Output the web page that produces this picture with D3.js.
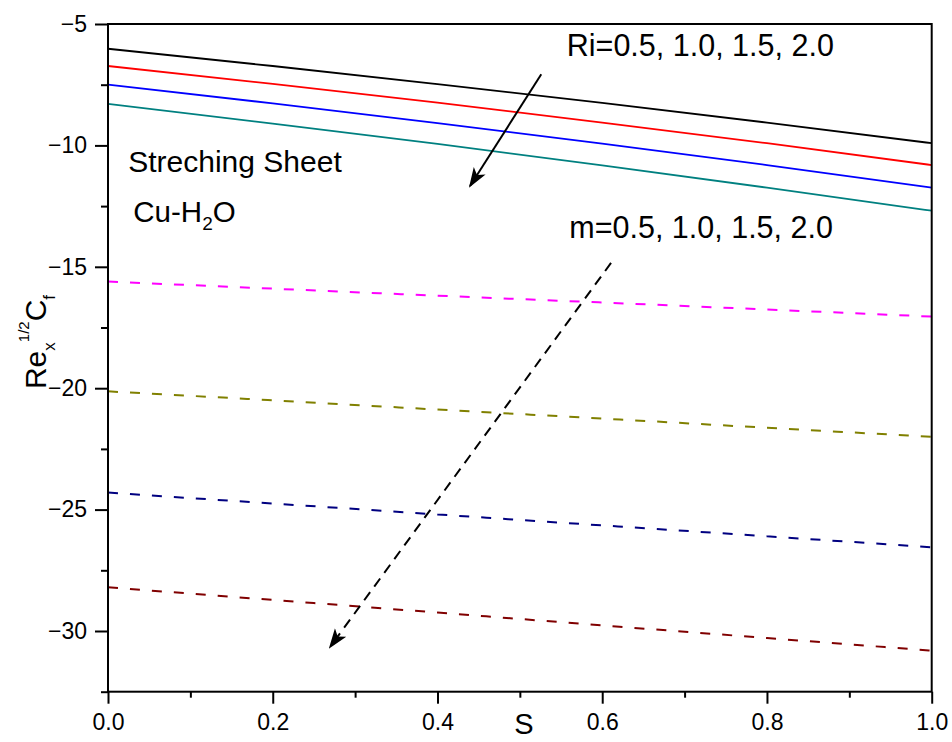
<!DOCTYPE html>
<html><head><meta charset="utf-8">
<script src="https://cdn.jsdelivr.net/npm/d3@7"></script>
<style>body{margin:0;background:#fff}svg{display:block}text{font-family:"Liberation Sans",Arial,sans-serif;fill:#000}</style>
</head><body><svg id="c" width="952" height="742"></svg>
<script>
const S = [0, 0.2, 0.4, 0.6, 0.8, 1.0];
const riBlack = [-6.02, -6.73, -7.48, -8.25, -9.06, -9.91];
const riRed   = [-6.73, -7.47, -8.24, -9.06, -9.91, -10.81];
const riBlue  = [-7.50, -8.27, -9.08, -9.93, -10.81, -11.74];
const riTeal  = [-8.29, -9.10, -9.94, -10.82, -11.74, -12.69];
const mMagenta = [-15.61, -15.90, -16.19, -16.47, -16.76, -17.05];
const mOlive   = [-20.13, -20.50, -20.88, -21.25, -21.63, -22.00];
const mNavy    = [-24.30, -24.75, -25.20, -25.65, -26.10, -26.55];
const mDarkRed = [-28.20, -28.72, -29.24, -29.77, -30.29, -30.81];
const xTicks = [0.0, 0.2, 0.4, 0.6, 0.8, 1.0];
const yTicks = [-5, -10, -15, -20, -25, -30];
const riArrow = [[0.526, -7.07], [0.4395, -11.67]];
const mArrow = [[0.6107, -14.84], [0.2695, -30.66]];

const W = 952, H = 742;
const m = {l: 108, t: 24, r: 20.3, b: 50.3};
const svg = d3.select("#c");
const x = d3.scaleLinear().domain([0, 1]).range([m.l, W - m.r]);
const y = d3.scaleLinear().domain([-32.5, -5]).range([H - m.b, m.t]);

const series = [
  {v: riBlack, c: "#000000", d: null},
  {v: riRed, c: "#ff0000", d: null},
  {v: riBlue, c: "#0000ff", d: null},
  {v: riTeal, c: "#008080", d: null},
  {v: mMagenta, c: "#ff00ff", d: "10,12"},
  {v: mOlive, c: "#808000", d: "10,12"},
  {v: mNavy, c: "#000080", d: "10,12"},
  {v: mDarkRed, c: "#800000", d: "10,12"}
];
const line = d3.line().x((d, i) => x(S[i])).y(d => y(d)).curve(d3.curveMonotoneX);
series.forEach(s => {
  svg.append("path").attr("d", line(s.v)).attr("fill", "none")
    .attr("stroke", s.c).attr("stroke-width", s.d ? 2 : 1.8)
    .attr("stroke-dasharray", s.d);
});

// frame
svg.append("rect").attr("x", m.l).attr("y", m.t).attr("width", W - m.l - m.r).attr("height", H - m.t - m.b)
  .attr("fill", "none").attr("stroke", "#000").attr("stroke-width", 2);

// axes
const xMinor = d3.range(0.1, 1, 0.2);
const yMinor = [-7.5, -12.5, -17.5, -22.5, -27.5, -32.5];
const gx = svg.append("g").attr("transform", `translate(0,${H - m.b})`)
  .call(d3.axisBottom(x).tickValues(xTicks).tickFormat(d3.format(".1f")).tickSize(12).tickPadding(10));
const gxm = svg.append("g").attr("transform", `translate(0,${H - m.b})`)
  .call(d3.axisBottom(x).tickValues(xMinor).tickFormat("").tickSize(6));
const gy = svg.append("g").attr("transform", `translate(${m.l},0)`)
  .call(d3.axisLeft(y).tickValues(yTicks).tickFormat(d3.format("d")).tickSize(13).tickPadding(8));
const gym = svg.append("g").attr("transform", `translate(${m.l},0)`)
  .call(d3.axisLeft(y).tickValues(yMinor).tickFormat("").tickSize(7));
[gx, gxm, gy, gym].forEach(g => {
  g.select(".domain").remove();
  g.selectAll("line").attr("stroke", "#000").attr("stroke-width", 2);
  g.selectAll("text").style("font-family", '"Liberation Sans",Arial,sans-serif').style("font-size", "23px").attr("fill", "#000");
});

// arrows
const defs = svg.append("defs");
defs.append("marker").attr("id", "ah2").attr("viewBox", "0 0 10 10").attr("refX", 9).attr("refY", 5)
  .attr("markerWidth", 20).attr("markerHeight", 20).attr("markerUnits", "userSpaceOnUse").attr("orient", "auto")
  .append("path").attr("d", "M0,1.5 L10,5 L0,8.5 L2.5,5 Z").attr("fill", "#000");
svg.append("line").attr("x1", x(riArrow[0][0])).attr("y1", y(riArrow[0][1]))
  .attr("x2", x(riArrow[1][0])).attr("y2", y(riArrow[1][1]))
  .attr("stroke", "#000").attr("stroke-width", 2).attr("marker-end", "url(#ah2)");
svg.append("line").attr("x1", x(mArrow[0][0])).attr("y1", y(mArrow[0][1]))
  .attr("x2", x(mArrow[1][0])).attr("y2", y(mArrow[1][1]))
  .attr("stroke", "#000").attr("stroke-width", 2).attr("stroke-dasharray", "10,7").attr("marker-end", "url(#ah2)");

// annotations
svg.append("text").attr("x", x(0.557)).attr("y", y(-6.32)).style("font-size", "30.5px").text("Ri=0.5, 1.0, 1.5, 2.0");
svg.append("text").attr("x", x(0.56)).attr("y", y(-13.81)).style("font-size", "30.5px").text("m=0.5, 1.0, 1.5, 2.0");
svg.append("text").attr("x", x(0.0246)).attr("y", y(-11.08)).style("font-size", "30px").text("Streching Sheet");
const cu = svg.append("text").attr("x", x(0.0307)).attr("y", y(-13.14)).style("font-size", "29.5px");
cu.append("tspan").text("Cu-H");
cu.append("tspan").attr("dy", 8).style("font-size", "19px").text("2");
cu.append("tspan").attr("dy", -8).text("O");

// axis titles
svg.append("text").attr("x", x(0.505)).attr("y", 734).attr("text-anchor", "middle").style("font-size", "29px").text("S");
const yl = svg.append("text").attr("transform", `translate(46,342) rotate(-90)`)
  .attr("text-anchor", "middle").style("font-size", "30px");
yl.append("tspan").text("Re");
yl.append("tspan").attr("dy", 9).style("font-size", "17px").text("x");
yl.append("tspan").attr("dy", -26).style("font-size", "15px").text("1/2");
yl.append("tspan").attr("dy", 17).text("C");
yl.append("tspan").attr("dy", 9).style("font-size", "17px").text("f");
</script></body></html>
